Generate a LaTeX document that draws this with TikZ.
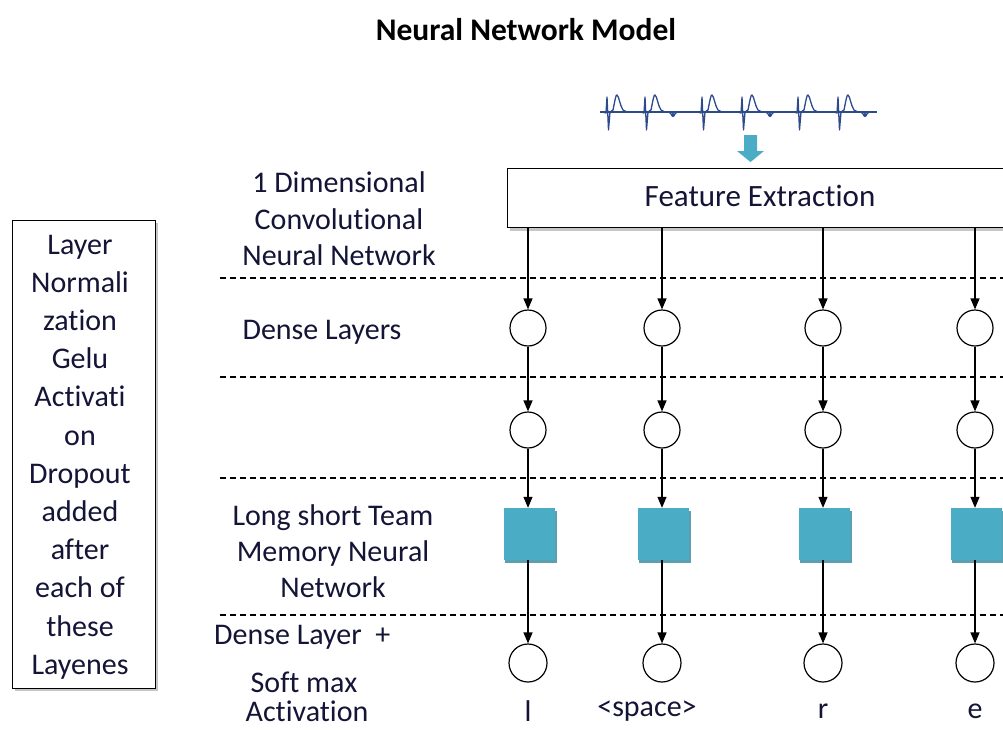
\documentclass[tikz,border=0pt]{standalone}
\usepackage{fontspec}
\setmainfont{Carlito}[RawFeature=-liga]
\usetikzlibrary{arrows.meta}
\definecolor{lstm}{RGB}{75,172,198}
\definecolor{txt}{RGB}{20,20,55}
\definecolor{ecg}{RGB}{45,75,140}
\begin{document}
\begin{tikzpicture}[x=1pt,y=-1pt,
  lbl/.style={font=\fontsize{30}{37}\selectfont, text=txt, align=center, inner sep=0},
  neuron/.style={circle, draw, line width=1.2pt, minimum size=36pt, inner sep=0, fill=white},
  lstmbox/.style={rectangle, fill=lstm, minimum width=51pt, minimum height=52pt, inner sep=0},
  arr/.style={-{Triangle[length=11pt,width=9pt]}, line width=1.2pt},
  sep/.style={dash pattern=on 6pt off 4pt, line width=1.1pt},
  wave/.style={ecg, line width=1.3pt, line join=round}]
\useasboundingbox (0,0) rectangle (1003,729);
\clip (0,0) rectangle (1003,729);
\fill[white] (0,0) rectangle (1003,729);

% title
\node[lbl, font=\fontsize{31.5}{32}\selectfont\bfseries, text=black] (title) at (526,30) {Neural Network Model};

% ECG waveform
\draw[wave] (600,112) -- (877,112);
\foreach \s in {607,645,702,742,798,838}{
  \draw[wave] (\s-4,112) -- (\s-1,113) -- (\s,97) -- (\s+1.5,130) -- (\s+3,112)
     -- (\s+6,110) .. controls (\s+8,100) and (\s+9,94) .. (\s+10,95) .. controls (\s+12,96) and (\s+13,106) .. (\s+16,110) -- (\s+20,112);
}
\foreach \d in {673,770,865}{
  \draw[wave] (\d-4,112) -- (\d,116) -- (\d+4,112);
  \fill[ecg] (\d,115) circle (2pt);
}

% block arrow
\fill[lstm] (744,135) -- (757,135) -- (757,151) -- (764,151) -- (750.5,162) -- (737,151) -- (744,151) -- cycle;

% feature extraction box
\fill[gray!45] (510,171) rectangle (1010,231);
\node[draw, line width=1.3pt, fill=white, minimum width=503pt, minimum height=59pt, anchor=north west, inner sep=0] (fe) at (507,168) {};
\node[lbl, font=\fontsize{31}{37}\selectfont] (fetext) at (760,196) {Feature Extraction};

% left box
\fill[gray!45] (15,223) rectangle (158,691);
\node[draw, line width=1.3pt, fill=white, minimum width=143pt, minimum height=468pt, anchor=north west, inner sep=0] (lbox) at (12,220) {};
\node[lbl, font=\fontsize{30}{38.2}\selectfont] (ltext) at (80,457) {Layer\\Normali\\zation\\Gelu\\Activati\\on\\Dropout\\added\\after\\each of\\these\\Layenes};

% row labels
\node[lbl, font=\fontsize{30}{36.5}\selectfont] (cnn) at (339,219) {1 Dimensional\\Convolutional\\Neural Network};
\node[lbl] (dense) at (322,332) {Dense Layers};
\node[lbl, font=\fontsize{30}{36}\selectfont] (lstmlbl) at (333,551) {Long short Team\\Memory Neural\\Network};
\node[lbl, anchor=west] (dl) at (214,637) {Dense Layer\ \ +};
\node[lbl] (sm) at (304,682) {Soft max};
\node[lbl] (act) at (307,711) {Activation};

% dashed separators
\foreach \y/\n in {278/a,377/b,478/c,615/d}{
  \coordinate (s\n1) at (220,\y);
  \coordinate (s\n2) at (1003,\y);
  \draw[sep] (s\n1) -- (s\n2);
}

% columns
\foreach \i/\x/\lab/\lx in {1/528/l/528, 2/662/{<space>}/647, 3/823/r/823, 4/975/e/975}{
  \node[neuron] (a\i) at (\x,328) {};
  \node[neuron] (b\i) at (\x,430) {};
  \fill[lstm!70!gray] (\x-23,511) rectangle (\x+29,563);
  \node[lstmbox] (c\i) at (\x+1,534) {};
  \node[neuron, minimum size=38pt] (o\i) at (\x,663) {};
  \node[lbl] (t\i) at (\lx,711) {\lab};
  \draw[arr] (a\i |- fe.south) -- (a\i);
  \draw[arr] (a\i) -- (b\i);
  \draw[arr] (b\i) -- (b\i |- c\i.north);
  \draw[arr] (b\i |- c\i.south) -- (o\i);
}
\end{tikzpicture}
\end{document}
